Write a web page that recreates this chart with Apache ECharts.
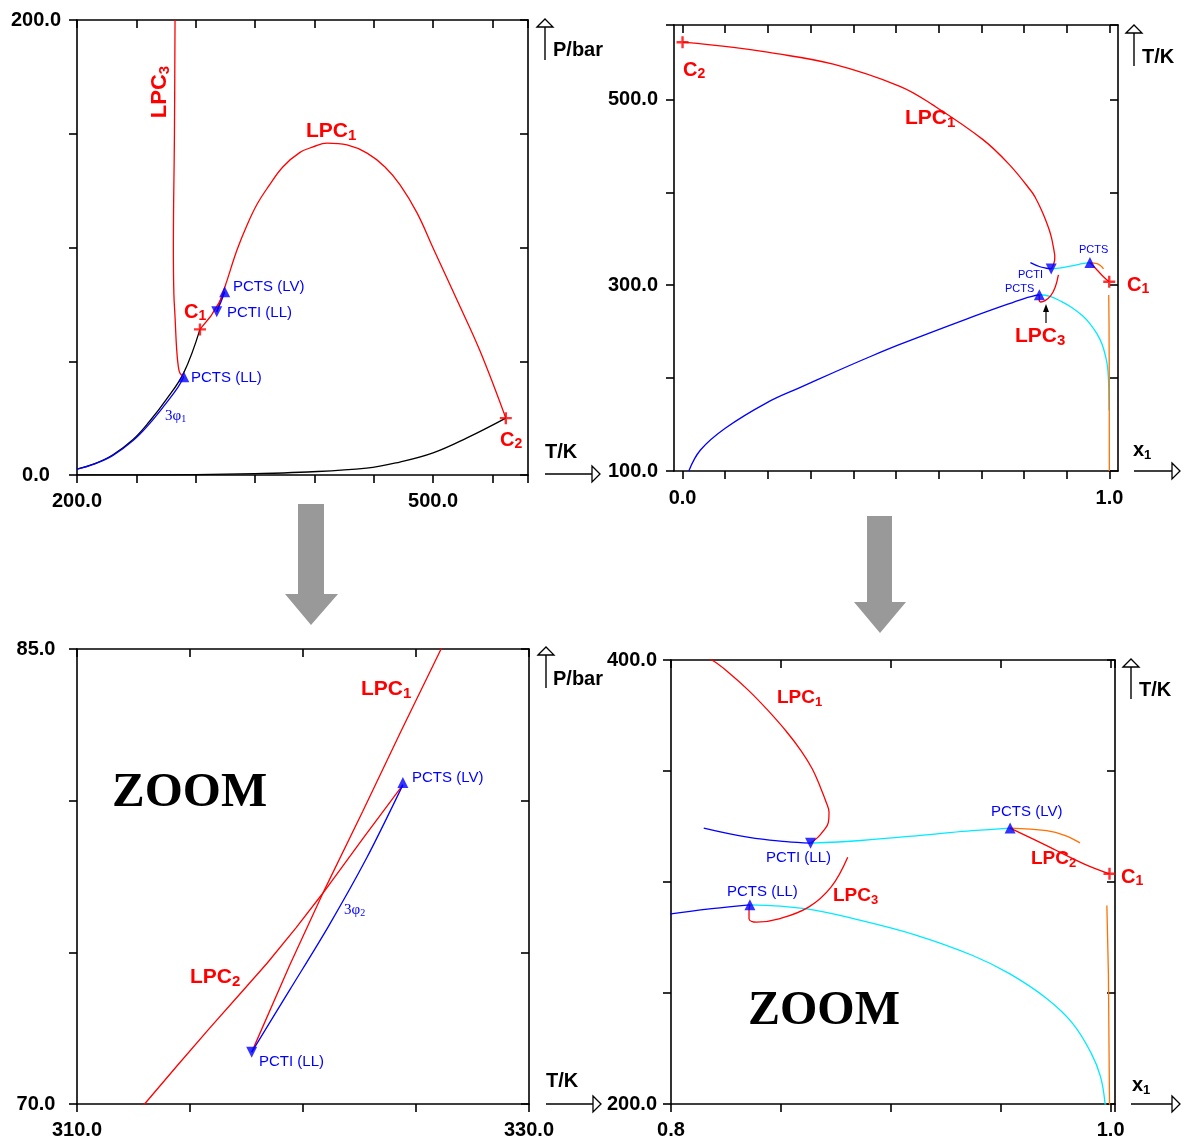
<!DOCTYPE html>
<html>
<head>
<meta charset="utf-8">
<script src="https://cdn.jsdelivr.net/npm/echarts@6/dist/echarts.min.js"></script>
<style>
html,body{margin:0;padding:0;background:#fff;}
#c{width:1185px;height:1141px;}
</style>
</head>
<body>
<div id="c"></div>
<script>
// ---------- DATA: P–T projection (T/K, P/bar) ----------
const vap1 = [[200,2.6],[215,5],[230,8.8],[247,15.5],[261,23.5],[275,33],[290,45],[303.6,64]];
const vap2 = [[200,0.02],[250,0.05],[300,0.2],[350,0.6],[388,1.2],[444,3],[472,5.7],[500,9.7],[528.6,16.3],[561.3,25]];
const threePhase1 = [[200,2.6],[215,4.9],[230,8.5],[247,15],[261,22.5],[275,31.5],[285,38.5],[290,43.2]];
const lpc3PT = [[282.6,200],[282.1,150],[281.2,100],[281.6,80],[282.6,69.6],[284,55],[285.3,48],[286.8,44.7],[290,43.2]];
const lpc1PT = [[317.73,71.71],[319.42,74.59],[320.95,77.06],[322.64,79.64],[324.33,82.28],[326.11,85],[334.8,98.9],[343.3,109.9],[351.7,119],[360.9,126.5],[373.6,135.5],[387.9,141.8],[398.9,144.2],[410.7,145.9],[427.5,145.1],[444.4,141.5],[459.5,135.4],[472.2,127.5],[486.5,115.2],[500,99.8],[520.2,76.9],[539.6,54.5],[561.3,25]];
const lpc2PT = [[303.6,64],[312.99,70],[314.43,71.26],[315.87,72.5],[317.14,73.57],[318.41,74.64],[319.68,75.8],[320.91,76.98],[322.64,78.74],[324.42,80.52]];
const threePhase2 = [[317.73,71.71],[319.42,73.77],[321.12,75.85],[322.81,78.1],[324.42,80.52]];
const ptPCTS_LV = [[324.42,80.6]];
const ptPCTI_LL = [[317.73,71.71]];
const ptPCTS_LL = [[290,43.2]];
const ptCrit = [[303.6,64],[561.3,25]];

// ---------- DATA: T–x projection (x1, T/K) ----------
const xtLPC1 = [[0,561.5],[0.119,556],[0.199,550.7],[0.353,537.8],[0.509,514],[0.586,494],[0.703,456.9],[0.765,430],[0.8186,400],[0.8271,393.6],[0.8355,386.1],[0.844,377.4],[0.8525,367.8],[0.8592,359.1],[0.8643,350.9],[0.868,342.6],[0.8706,335.9],[0.8719,331.4],[0.8716,326.9],[0.8694,323.1],[0.8668,320.1],[0.8635,317.5]];
const xtBlueUpper = [[0.8149,324.3],[0.8355,320.1],[0.8525,318.2],[0.8635,317.5]];
const xtCyanUpper = [[0.8635,317.5],[0.8863,318.7],[0.92,321.6],[0.937,323.1],[0.9543,324.3]];
const xtLPC2 = [[0.9543,324.3],[0.9709,316.4],[0.9878,308.2],[0.9995,303.7]];
const xtOrangeShort = [[0.9543,324.3],[0.9709,323.1],[0.9794,320.9],[0.9861,317.6]];
const xtOrangeLong = [[0.9983,289.4],[0.999,258.7],[0.9995,200],[0.9997,100]];
const xtBlueLower = [[0.0147,100],[0.042,122.6],[0.1,146],[0.198,173.6],[0.276,190],[0.354,206],[0.432,221.6],[0.509,236.2],[0.665,263.5],[0.76,279.3],[0.8,285.6],[0.8186,288],[0.8359,289.7]];
const xtCyanLower = [[0.8359,289.7],[0.8609,288],[0.8863,282.7],[0.9117,276],[0.937,267],[0.954,258.7],[0.9709,247.5],[0.9827,236.3],[0.9912,222.8],[0.9954,212.3],[0.9975,200],[0.9985,185],[0.999,165]];
const xtLPC3 = [[0.8804,311.2],[0.8728,297.7],[0.8626,288.7],[0.8491,283.4],[0.8389,281.9],[0.8355,283.4],[0.8355,287.2],[0.8359,289.7]];
const xtPCTS_LL = [[0.8359,289.7]];
const xtPCTI_LL = [[0.8635,317.5]];
const xtPCTS_LV = [[0.9543,324.3]];
const xtCrit = [[0.9995,303.7],[0,561.5]];

// ---------- TICKS / LABELS ----------
const tlXLabels = [200, 500], tlYLabels = [0, 200];
const trXTicks = [0,0.1,0.2,0.3,0.4,0.5,0.6,0.7,0.8,0.9,1.0], trXLabels = [0, 1], trYLabels = [100, 300, 500];
const blXLabels = [310, 330], blYLabels = [70, 85];
const brXLabels = [0.8, 1.0], brYLabels = [200, 400];

// ---------- STYLE ----------
const FONT = '"Liberation Sans", Arial, Helvetica, sans-serif';
const SERIF = '"Liberation Serif", "Times New Roman", serif';
const RED = '#ff0000', BLUE = '#0000ff', CYAN = '#00eaff', ORANGE = '#ff7000', BLACK = '#000000';
const AX = {color: '#000', width: 1.6};

function xPair(gi, min, max, interval, labels, margin, tickValues) {
  const base = {gridIndex: gi, type: 'value', min, max, splitLine: {show: false},
    axisLine: {show: true, onZero: false, lineStyle: AX}};
  if (interval) base.interval = interval;
  const tick = {show: true, length: 8, lineStyle: AX};
  if (tickValues) tick.customValues = tickValues;
  return [
    Object.assign({}, base, {position: 'bottom', axisTick: Object.assign({}, tick, {inside: false}),
      axisLabel: {show: true, customValues: labels, formatter: v => (+v).toFixed(1), margin,
        color: '#000', fontSize: 20, fontWeight: 'bold', fontFamily: FONT}}),
    Object.assign({}, base, {position: 'top', axisTick: Object.assign({}, tick, {inside: true}), axisLabel: {show: false}})
  ];
}
function yPair(gi, min, max, interval, labels, margin) {
  const base = {gridIndex: gi, type: 'value', min, max, interval, splitLine: {show: false},
    axisLine: {show: true, onZero: false, lineStyle: AX}};
  const tick = {show: true, length: 8, lineStyle: AX};
  return [
    Object.assign({}, base, {position: 'left', axisTick: Object.assign({}, tick, {inside: false}),
      axisLabel: {show: true, customValues: labels, formatter: v => (+v).toFixed(1), margin, align: 'center',
        color: '#000', fontSize: 20, fontWeight: 'bold', fontFamily: FONT}}),
    Object.assign({}, base, {position: 'right', axisTick: Object.assign({}, tick, {inside: true}), axisLabel: {show: false}})
  ];
}

const xAxes = [].concat(
  xPair(0, 200, 580, 50, tlXLabels, 16),
  xPair(1, -0.02, 1.02, null, trXLabels, 17, trXTicks),
  xPair(2, 310, 330, 5, blXLabels, 16),
  xPair(3, 0.8, 1.002, 0.05, brXLabels, 16)
);
const yAxes = [].concat(
  yPair(0, 0, 200, 50, tlYLabels, 41),
  yPair(1, 100, 580, 100, trYLabels, 41),
  yPair(2, 70, 85, 5, blYLabels, 41),
  yPair(3, 200, 400, 50, brYLabels, 39)
);

const series = [];
function line(gi, data, color, smooth) {
  series.push({type: 'line', xAxisIndex: 2 * gi, yAxisIndex: 2 * gi, data, symbol: 'none', showSymbol: false,
    smooth: smooth === undefined ? 0.4 : smooth, clip: true, silent: true, animation: false,
    lineStyle: {color, width: 1.3}, z: 3});
}
const PLUS = 'path://M4 0H6V4H10V6H6V10H4V6H0V4H4Z';
function marks(gi, data, kind) {
  const s = {type: 'scatter', xAxisIndex: 2 * gi, yAxisIndex: 2 * gi, data, silent: true, animation: false, z: 5, clip: true};
  if (kind === 'up') Object.assign(s, {symbol: 'triangle', symbolSize: 11, itemStyle: {color: BLUE}});
  if (kind === 'down') Object.assign(s, {symbol: 'triangle', symbolRotate: 180, symbolSize: 11, itemStyle: {color: BLUE}});
  if (kind === 'plus') Object.assign(s, {symbol: PLUS, symbolSize: 12, itemStyle: {color: RED}});
  series.push(s);
}

// Panel 0: P–T overview
line(0, vap2, BLACK);
line(0, vap1, BLACK);
line(0, threePhase1, BLUE);
line(0, lpc3PT, RED);
line(0, lpc1PT, RED);
line(0, lpc2PT, RED, false);
line(0, threePhase2, BLUE, 0.3);
marks(0, ptPCTS_LV, 'up'); marks(0, ptPCTI_LL, 'down'); marks(0, ptPCTS_LL, 'up'); marks(0, ptCrit, 'plus');

// Panel 2: P–T zoom
line(2, lpc2PT, RED, false);
line(2, lpc1PT, RED, false);
line(2, threePhase2, BLUE, 0.3);
marks(2, ptPCTS_LV, 'up'); marks(2, ptPCTI_LL, 'down');

// Panels 1 and 3: T–x overview and zoom
[1, 3].forEach(gi => {
  line(gi, xtBlueLower, BLUE);
  line(gi, xtCyanLower, CYAN);
  line(gi, xtOrangeLong, ORANGE, false);
  line(gi, xtLPC3, RED);
  line(gi, xtBlueUpper, BLUE);
  line(gi, xtCyanUpper, CYAN);
  line(gi, xtOrangeShort, ORANGE);
  line(gi, xtLPC1, RED);
  line(gi, xtLPC2, RED);
  marks(gi, xtPCTS_LL, 'up'); marks(gi, xtPCTI_LL, 'down'); marks(gi, xtPCTS_LV, 'up'); marks(gi, xtCrit, 'plus');
});

// ---------- ANNOTATIONS ----------
function richSet(size, sub, color) {
  return {
    m: {fontFamily: FONT, fontWeight: 'bold', fontSize: size, fill: color, lineHeight: size + 3},
    s: {fontFamily: FONT, fontWeight: 'bold', fontSize: sub, fill: color, lineHeight: sub + 2, verticalAlign: 'bottom'}
  };
}
const graphics = [];
function label(x, y, main, sub, size, subSize, color, align, rotation) {
  const g = {type: 'text', x, y, z: 10, silent: true,
    style: {text: sub ? '{m|' + main + '}{s|' + sub + '}' : '{m|' + main + '}', rich: richSet(size, subSize, color),
      fill: color, align: align || 'left', verticalAlign: 'middle'}};
  if (rotation) g.rotation = rotation;
  graphics.push(g);
}
function plain(x, y, text, size, color, family, weight) {
  graphics.push({type: 'text', x, y, z: 10, silent: true,
    style: {text, fill: color, font: (weight || 'normal') + ' ' + size + 'px ' + (family || FONT), align: 'left', verticalAlign: 'middle'}});
}
function greek(x, y, sub, size, subSize) {
  graphics.push({type: 'text', x, y, z: 10, silent: true,
    style: {text: '{m|3φ}{s|' + sub + '}', align: 'left', verticalAlign: 'middle', fill: BLUE,
      rich: {m: {fontFamily: SERIF, fontSize: size, fill: BLUE, lineHeight: size + 2},
             s: {fontFamily: SERIF, fontSize: subSize, fill: BLUE, lineHeight: subSize + 1, verticalAlign: 'bottom'}}}});
}
function vArrow(x, yTip, yEnd) {
  graphics.push({type: 'line', shape: {x1: x, y1: yTip + 8, x2: x, y2: yEnd}, style: {stroke: '#000', lineWidth: 1.4}, silent: true});
  graphics.push({type: 'polygon', shape: {points: [[x - 8, yTip + 8], [x, yTip], [x + 8, yTip + 8]]}, style: {stroke: '#000', fill: '#fff', lineWidth: 1.3}, silent: true});
}
function hArrow(y, xStart, xTip) {
  graphics.push({type: 'line', shape: {x1: xStart, y1: y, x2: xTip - 8, y2: y}, style: {stroke: '#000', lineWidth: 1.4}, silent: true});
  graphics.push({type: 'polygon', shape: {points: [[xTip - 8, y - 8], [xTip, y], [xTip - 8, y + 8]]}, style: {stroke: '#000', fill: '#fff', lineWidth: 1.3}, silent: true});
}

// top-left
label(160, 92, 'LPC', '3', 22, 15, RED, 'center', Math.PI / 2);
label(306, 131, 'LPC', '1', 21, 15, RED);
plain(233, 287, 'PCTS (LV)', 15, BLUE);
plain(227, 313, 'PCTI (LL)', 15, BLUE);
label(184, 312, 'C', '1', 20, 14, RED);
plain(191, 378, 'PCTS (LL)', 15, BLUE);
greek(165, 416, '1', 15, 10);
label(500, 440, 'C', '2', 20, 14, RED);
vArrow(545, 19, 60); hArrow(474, 545, 600);
label(553, 50, 'P/bar', null, 20, 14, BLACK);
label(545, 452, 'T/K', null, 20, 14, BLACK);

// top-right
label(683, 70, 'C', '2', 20, 14, RED);
label(905, 118, 'LPC', '1', 21, 15, RED);
plain(1079, 250, 'PCTS', 11, BLUE);
plain(1018, 275, 'PCTI', 11, BLUE);
plain(1005, 289, 'PCTS', 11, BLUE);
label(1127, 285, 'C', '1', 20, 14, RED);
label(1015, 336, 'LPC', '3', 21, 15, RED);
graphics.push({type: 'line', shape: {x1: 1046, y1: 323, x2: 1046, y2: 311}, style: {stroke: '#000', lineWidth: 1.2}, silent: true});
graphics.push({type: 'polygon', shape: {points: [[1043, 312], [1046, 304], [1049, 312]]}, style: {fill: '#000'}, silent: true});
vArrow(1134, 25, 66); hArrow(471, 1134, 1180);
label(1142, 57, 'T/K', null, 20, 14, BLACK);
label(1133, 450, 'x', '1', 20, 13, BLACK);

// bottom-left
label(361, 689, 'LPC', '1', 21, 15, RED);
plain(412, 778, 'PCTS (LV)', 15, BLUE);
plain(112, 793, 'ZOOM', 49, BLACK, SERIF, 'bold');
greek(344, 910, '2', 15, 10);
label(190, 977, 'LPC', '2', 21, 15, RED);
plain(259, 1062, 'PCTI (LL)', 15, BLUE);
vArrow(546, 647, 688); hArrow(1104, 546, 601);
label(553, 679, 'P/bar', null, 20, 14, BLACK);
label(546, 1081, 'T/K', null, 20, 14, BLACK);

// bottom-right
label(777, 698, 'LPC', '1', 19, 13, RED);
plain(991, 812, 'PCTS (LV)', 15, BLUE);
plain(766, 858, 'PCTI (LL)', 15, BLUE);
label(1031, 859, 'LPC', '2', 19, 13, RED);
label(1121, 877, 'C', '1', 20, 14, RED);
plain(727, 892, 'PCTS (LL)', 15, BLUE);
label(833, 896, 'LPC', '3', 19, 13, RED);
plain(748, 1012, 'ZOOM', 48, BLACK, SERIF, 'bold');
vArrow(1131, 659, 699); hArrow(1104, 1131, 1180);
label(1139, 690, 'T/K', null, 20, 14, BLACK);
label(1132, 1085, 'x', '1', 20, 13, BLACK);

// grey block arrows between panels
graphics.push({type: 'polygon', silent: true, shape: {points: [[298, 504], [324, 504], [324, 594], [338, 594], [311, 625], [285, 594], [298, 594]]}, style: {fill: '#999999'}});
graphics.push({type: 'polygon', silent: true, shape: {points: [[867, 516], [892, 516], [892, 602], [906, 602], [880, 633], [854, 602], [867, 602]]}, style: {fill: '#999999'}});

const option = {
  animation: false,
  backgroundColor: '#fff',
  grid: [
    {left: 77, top: 20, width: 451, height: 455},
    {left: 674, top: 25, width: 444, height: 446},
    {left: 77, top: 649, width: 452, height: 455},
    {left: 671, top: 660, width: 444, height: 444}
  ],
  xAxis: xAxes,
  yAxis: yAxes,
  series,
  graphic: graphics
};
const chart = echarts.init(document.getElementById('c'), null, {renderer: 'canvas'});
chart.setOption(option);
</script>
</body>
</html>
